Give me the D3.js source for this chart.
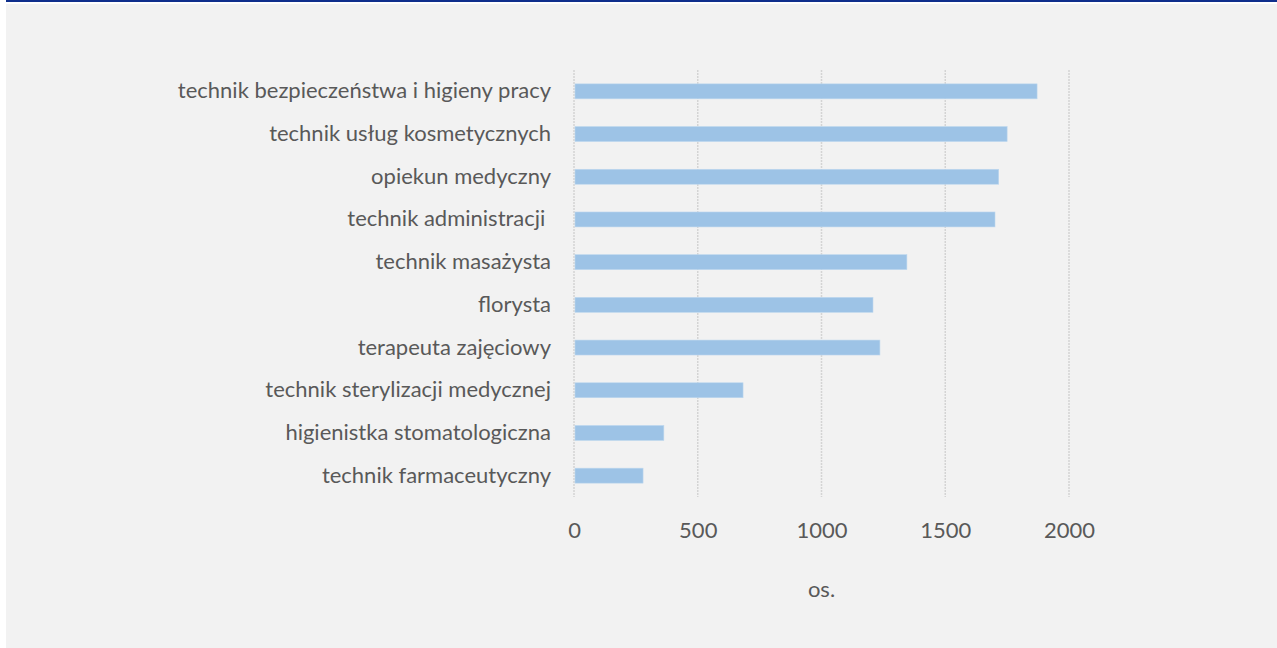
<!DOCTYPE html>
<html>
<head>
<meta charset="utf-8">
<script src="https://cdn.jsdelivr.net/npm/d3@7"></script>
<style>
    body { margin: 0; background: #ffffff; }
    svg { display: block; }
</style>
</head>
<body>
<div id="chart"></div>
<script>
// data
const categories = [
    "technik bezpieczeństwa i higieny pracy",
    "technik usług kosmetycznych",
    "opiekun medyczny",
    "technik administracji ",
    "technik masażysta",
    "florysta",
    "terapeuta zajęciowy",
    "technik sterylizacji medycznej",
    "higienistka stomatologiczna",
    "technik farmaceutyczny"
]
const values = [1871, 1750, 1716, 1701, 1345, 1208, 1236, 683, 363, 279]
const xTicks = [0, 500, 1000, 1500, 2000]
const axisTitle = "os."

const W = 1277, H = 648
const font = "Lato, 'Open Sans', sans-serif"

// plot area
let margin = { top: 70, left: 574 },
    width = 495,
    height = 427

let svg = d3.select("#chart").append("svg")
    .attr("width", W)
    .attr("height", H)

// background + top stripe
svg.append("rect")
    .attr("x", 6).attr("y", 4)
    .attr("width", W - 6).attr("height", H - 4)
    .attr("fill", "#f2f2f2")
svg.append("rect")
    .attr("x", 6).attr("y", 0)
    .attr("width", W - 6).attr("height", 2)
    .attr("fill", "#0f2f8c")

let g = svg.append("g")
    .attr("transform", "translate(" + margin.left + "," + margin.top + ")")

// set the ranges
let x = d3.scaleLinear()
    .domain([0, 2000])
    .range([0, width])
let y = d3.scaleBand()
    .domain(categories)
    .range([0, height])
    .paddingInner(0.65)
    .paddingOuter(0.325)

// grid lines
g.selectAll(".grid")
    .data(xTicks)
    .enter().append("line")
    .attr("class", "grid")
    .attr("x1", d => x(d)).attr("x2", d => x(d))
    .attr("y1", 0).attr("y2", height)
    .attr("stroke", "#d4d4d4")
    .attr("stroke-width", 1.5)
    .attr("stroke-dasharray", "2,1")

// bars
g.selectAll(".bar")
    .data(values)
    .enter().append("rect")
    .attr("class", "bar")
    .attr("x", x(0) + 1)
    .attr("y", (d, i) => y(categories[i]))
    .attr("width", d => x(d) - x(0) - 1)
    .attr("height", y.bandwidth())
    .attr("fill", "#9dc3e6")
    .attr("stroke", "#bdd7ee")
    .attr("stroke-width", 0.6)

// category axis
let yAxis = g.append("g")
    .call(d3.axisLeft(y).tickSize(0).tickPadding(23))
yAxis.select(".domain").remove()
yAxis.selectAll("text")
    .style("white-space", "pre")
    .attr("fill", "#595959")
    .attr("font-family", font)
    .attr("font-size", 22)

// value axis
let xAxis = g.append("g")
    .attr("transform", "translate(0," + height + ")")
    .call(d3.axisBottom(x).tickValues(xTicks).tickFormat(d3.format("d")).tickSize(0).tickPadding(25))
xAxis.select(".domain").remove()
xAxis.selectAll("text")
    .attr("fill", "#595959")
    .attr("font-family", font)
    .attr("font-size", 22)

// axis title
g.append("text")
    .text(axisTitle)
    .attr("x", width / 2)
    .attr("y", height + 100)
    .attr("text-anchor", "middle")
    .attr("fill", "#595959")
    .attr("font-family", font)
    .attr("font-size", 22)
</script>
</body>
</html>
